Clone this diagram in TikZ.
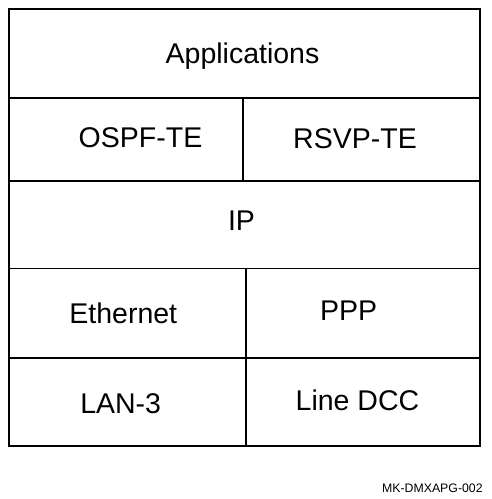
\documentclass[tikz,border=0pt]{standalone}
\usepackage{fontspec}
\setmainfont{Liberation Sans}
\newcommand{\lyr}{\fontsize{28.5}{32}\selectfont}
\newcommand{\tagsz}{\fontsize{12.3}{14}\selectfont}

\begin{document}
\begin{tikzpicture}[x=1pt,y=-1pt,line width=1.6pt,
    layer/.style={inner sep=0pt,anchor=base,font=\lyr}]
            \useasboundingbox (0,0) rectangle (492,499);
            \draw (9,9) rectangle (480,446);
            \foreach \y in {98,181,268.5,358}{
                \draw (9,\y)--(480,\y);
            }
            \draw (242.7,98)--(242.7,181);
            \draw (246,268.5)--(246,446);
            \node[layer] (app) at (242.5,63) {Applications};
            \node[layer] (ospf) at (140.5,147) {OSPF-TE};
            \node[layer] (rsvp) at (355,148) {RSVP-TE};
            \node[layer] (ip) at (241.5,230) {IP};
            \node[layer] (eth) at (123.3,323) {Ethernet};
            \node[layer] (ppp) at (348.7,320) {PPP};
            \node[layer] (lan) at (120.7,413) {LAN-3};
            \node[layer] (dcc) at (357.5,410) {Line DCC};
            \node[inner sep=0pt,anchor=base,font=\tagsz] (tag) at (432.4,492) {MK-DMXAPG-002};
        \end{tikzpicture}
\end{document}
